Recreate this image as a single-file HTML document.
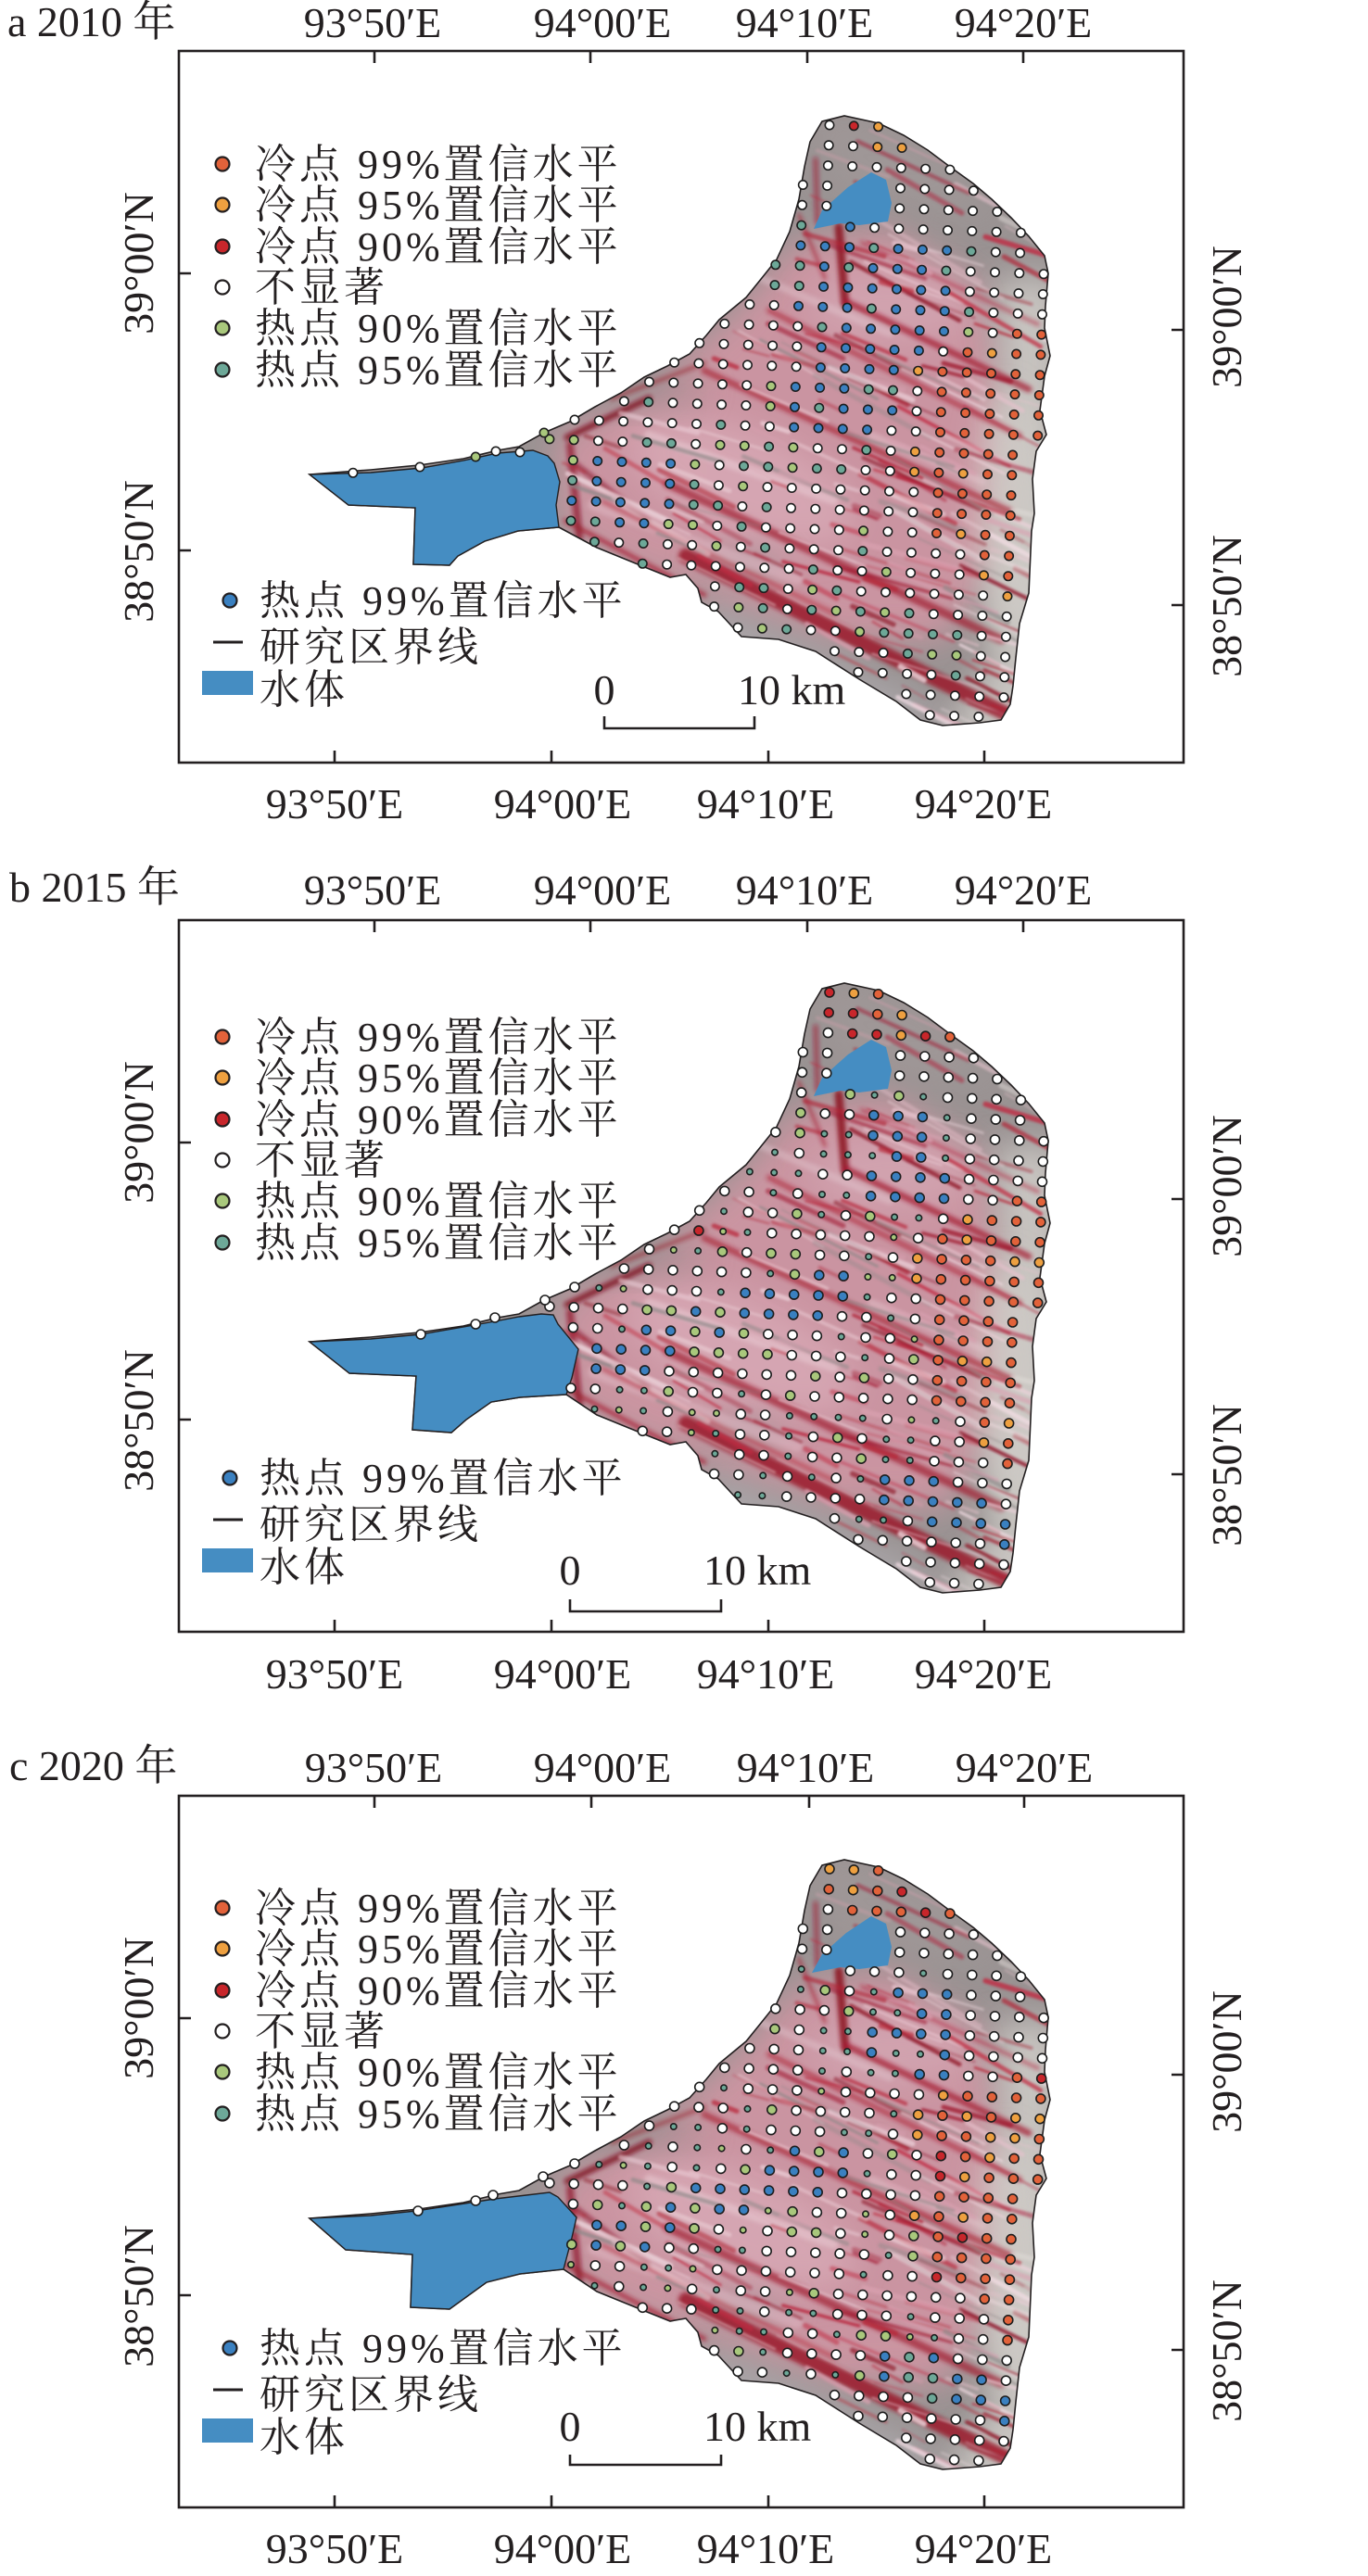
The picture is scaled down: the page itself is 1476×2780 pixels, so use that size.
<!DOCTYPE html>
<html><head><meta charset="utf-8">
<style>
html,body{margin:0;padding:0;background:#fff;overflow:hidden;width:1476px;height:2780px;}
svg{display:block;}
.t{font-family:"Liberation Serif","Noto Serif CJK SC",serif;font-size:46px;fill:#231f20;}
.lg{font-family:"Liberation Serif","Noto Serif CJK SC",serif;font-size:44px;fill:#231f20;letter-spacing:4px;}
.fr{fill:none;stroke:#231f20;stroke-width:2.6;}
.tk{stroke:#231f20;stroke-width:2.6;}
.ld{stroke:#231f20;stroke-width:2.2;}
</style></head><body>
<svg id="s" width="1476" height="2780" viewBox="0 0 1476 2780" xmlns="http://www.w3.org/2000/svg">
<defs>
 <filter id="b20" x="-50%" y="-50%" width="200%" height="200%"><feGaussianBlur stdDeviation="18"/></filter>
 <filter id="b3" x="-10%" y="-10%" width="120%" height="120%"><feGaussianBlur stdDeviation="2.5"/></filter>
 <filter id="b1" x="-10%" y="-10%" width="120%" height="120%"><feGaussianBlur stdDeviation="1.2"/></filter>
 <clipPath id="clipa"><polygon points="334,512 400,507 452,502 500,495 537,486 560,482 587,467 615,455 642,439 670,424 695,407 720,395 744,382 762,362 776,345 805,321 822,300 838,280 852,250 862,215 868,180 874,153 887,131 911,125 948,133 975,146 1001,162 1025,180 1050,198 1070,215 1091,235 1110,255 1127,276 1131,295 1128,330 1127,354 1133,384 1127,406 1122,443 1129,469 1118,487 1114,517 1116,554 1113,573 1110,640 1100,673 1096,710 1093,740 1090,760 1080,777 1057,780 1017,783 993,777 967,757 927,733 880,703 840,690 800,687 775,660 757,650 753,635 740,620 723,623 698,613 644,591 603,569 559,573 523,584 494,600 485,610 446,609 448,548 376,545"/></clipPath>
 <clipPath id="clipb"><polygon points="334,512 400,507 452,502 500,495 537,486 560,482 587,467 615,455 642,439 670,424 695,407 720,395 744,382 762,362 776,345 805,321 822,300 838,280 852,250 862,215 868,180 874,153 887,131 911,125 948,133 975,146 1001,162 1025,180 1050,198 1070,215 1091,235 1110,255 1127,276 1131,295 1128,330 1127,354 1133,384 1127,406 1122,443 1129,469 1118,487 1114,517 1116,554 1113,573 1110,640 1100,673 1096,710 1093,740 1090,760 1080,777 1057,780 1017,783 993,777 967,757 927,733 880,703 840,690 800,687 775,660 757,650 753,635 740,620 723,623 698,613 644,591 611,569 561,572 530,577 503,596 487,610 445,607 449,549 377,546"/></clipPath>
 <clipPath id="clipc"><polygon points="334,512 400,507 452,502 500,495 537,486 560,482 587,467 615,455 642,439 670,424 695,407 720,395 744,382 762,362 776,345 805,321 822,300 838,280 852,250 862,215 868,180 874,153 887,131 911,125 948,133 975,146 1001,162 1025,180 1050,198 1070,215 1091,235 1110,255 1127,276 1131,295 1128,330 1127,354 1133,384 1127,406 1122,443 1129,469 1118,487 1114,517 1116,554 1113,573 1110,640 1100,673 1096,710 1093,740 1090,760 1080,777 1057,780 1017,783 993,777 967,757 927,733 880,703 840,690 800,687 775,660 757,650 753,635 740,620 723,623 698,613 644,591 608,567 561,572 525,581 485,610 443,608 445,551 373,546"/></clipPath>
 <g id="mapbg">
  <rect x="300" y="100" width="880" height="720" fill="#9a9393"/>
  <polygon points="600,470 690,425 790,340 860,260 960,245 1060,310 1090,450 1080,600 1020,690 900,690 780,650 670,610 605,570" fill="#d095a3" opacity="0.9" filter="url(#b20)"/>
  <ellipse cx="800" cy="520" rx="130" ry="55" fill="#dfb4c0" opacity="0.55" filter="url(#b20)" transform="rotate(22 800 520)"/>
  <ellipse cx="960" cy="330" rx="90" ry="40" fill="#d8b0bc" opacity="0.5" filter="url(#b20)"/>
  <polygon points="1075,300 1145,300 1145,800 1010,800 1070,720 1085,560" fill="#cdcac6" opacity="0.9" filter="url(#b20)"/>
  <ellipse cx="1085" cy="560" rx="30" ry="140" fill="#d6d3ce" opacity="0.7" filter="url(#b20)"/>
  <polygon points="760,650 880,700 1000,760 1010,800 740,800" fill="#b0aeb2" opacity="0.7" filter="url(#b20)"/>
  <polygon points="870,120 1000,140 1080,230 1000,230 900,200" fill="#a39a9a" opacity="0.6" filter="url(#b20)"/>
  <ellipse cx="700" cy="420" rx="60" ry="20" fill="#8e8a8a" opacity="0.5" filter="url(#b20)"/>
  <ellipse cx="800" cy="610" rx="50" ry="18" fill="#9a9898" opacity="0.5" filter="url(#b20)"/>
  <g filter="url(#b3)" stroke-linecap="round" fill="none">
   <line x1="700" y1="470" x2="900" y2="540" stroke="#ecd0d8" stroke-width="10" opacity=".5"/>
   <line x1="640" y1="545" x2="860" y2="625" stroke="#e6c6d0" stroke-width="12" opacity=".4"/>
   <line x1="820" y1="300" x2="960" y2="360" stroke="#e4ccd4" stroke-width="8" opacity=".4"/>
   <line x1="940" y1="470" x2="1060" y2="520" stroke="#e8d0d8" stroke-width="8" opacity=".4"/>
   <line x1="905" y1="245" x2="912" y2="330" stroke="#8e1425" stroke-width="9" opacity=".9"/>
   <line x1="912" y1="325" x2="1110" y2="420" stroke="#a51a30" stroke-width="7" opacity=".75"/>
   <line x1="930" y1="262" x2="1120" y2="350" stroke="#b52238" stroke-width="4" opacity=".55"/>
   <line x1="830" y1="335" x2="1100" y2="470" stroke="#ad1b32" stroke-width="6" opacity=".6"/>
   <line x1="760" y1="400" x2="1090" y2="552" stroke="#a81a30" stroke-width="7" opacity=".65"/>
   <line x1="720" y1="522" x2="1080" y2="690" stroke="#a01830" stroke-width="9" opacity=".7"/>
   <line x1="740" y1="600" x2="1085" y2="770" stroke="#9a1528" stroke-width="16" opacity=".85"/>
   <line x1="650" y1="542" x2="900" y2="662" stroke="#b82438" stroke-width="5" opacity=".55"/>
   <line x1="610" y1="562" x2="760" y2="642" stroke="#a81a30" stroke-width="5" opacity=".7"/>
   <line x1="612" y1="472" x2="700" y2="430" stroke="#7e1422" stroke-width="7" opacity=".8"/>
   <line x1="620" y1="500" x2="700" y2="562" stroke="#8a1626" stroke-width="5" opacity=".7"/>
   <line x1="660" y1="430" x2="760" y2="392" stroke="#9a1a2a" stroke-width="4" opacity=".6"/>
   <line x1="862" y1="232" x2="890" y2="300" stroke="#a81a30" stroke-width="4" opacity=".6"/>
   <line x1="880" y1="172" x2="882" y2="240" stroke="#a01830" stroke-width="5" opacity=".6"/>
   <line x1="615" y1="480" x2="625" y2="580" stroke="#8e1626" stroke-width="8" opacity=".7"/>
  </g>
  <g id="tex" filter="url(#b1)" stroke-linecap="round" fill="none"></g>
 </g>
</defs>

<!-- ===== Panel a ===== -->
<text class="t" x="8" y="39">a 2010 年</text>
<rect class="fr" x="193" y="55" width="1084" height="768"/>
<path class="tk" d="M404,55V68M637,55V68M871,55V68M1104,55V68M361,823V810M595,823V810M829,823V810M1062,823V810M193,295H206M193,594H206M1277,356H1264M1277,653H1264"/>
<g class="t" text-anchor="middle">
 <text x="402" y="40">93°50′E</text><text x="650" y="40">94°00′E</text><text x="868" y="40">94°10′E</text><text x="1104" y="40">94°20′E</text>
 <text x="361" y="883">93°50′E</text><text x="607" y="883">94°00′E</text><text x="826" y="883">94°10′E</text><text x="1061" y="883">94°20′E</text>
 <text transform="translate(165,284) rotate(-90)">39°00′N</text><text transform="translate(165,595) rotate(-90)">38°50′N</text>
 <text transform="translate(1339,342) rotate(-90)">39°00′N</text><text transform="translate(1339,654) rotate(-90)">38°50′N</text>
</g>
<g>
 <g clip-path="url(#clipa)"><use href="#mapbg"/></g>
 <polygon points="334,512 400,507 452,502 500,495 537,486 560,482 587,467 615,455 642,439 670,424 695,407 720,395 744,382 762,362 776,345 805,321 822,300 838,280 852,250 862,215 868,180 874,153 887,131 911,125 948,133 975,146 1001,162 1025,180 1050,198 1070,215 1091,235 1110,255 1127,276 1131,295 1128,330 1127,354 1133,384 1127,406 1122,443 1129,469 1118,487 1114,517 1116,554 1113,573 1110,640 1100,673 1096,710 1093,740 1090,760 1080,777 1057,780 1017,783 993,777 967,757 927,733 880,703 840,690 800,687 775,660 757,650 753,635 740,620 723,623 698,613 644,591 603,569 559,573 523,584 494,600 485,610 446,609 448,548 376,545" fill="none" stroke="#231f20" stroke-width="1.6"/>
 <polygon points="334,512 376,545 448,548 446,609 485,610 494,600 523,584 559,573 603,569 600,545 604,520 598,500 591,492 575,486 537,489 500,497 455,505 400,510" fill="#458dc2" stroke="#231f20" stroke-width="1.4"/>
 <polygon points="878,247 887,227 915,202 940,186 956,194 962,219 958,239 927,243 907,241" fill="#458dc2"/>
 <g id="dotsa"></g>
</g>
<g class="lg">
 <text x="275" y="192">冷点 99%置信水平</text><text x="275" y="236">冷点 95%置信水平</text><text x="275" y="281">冷点 90%置信水平</text>
 <text x="275" y="325">不显著</text><text x="275" y="369">热点 90%置信水平</text><text x="275" y="414">热点 95%置信水平</text>
 <text x="280" y="663">热点 99%置信水平</text><text x="280" y="713">研究区界线</text><text x="280" y="759">水体</text>
</g>
<g class="ld">
 <circle cx="240" cy="177" r="7.5" fill="#e2623a"/><circle cx="240" cy="221" r="7.5" fill="#eea040"/><circle cx="240" cy="266" r="7.5" fill="#c8262b"/>
 <circle cx="240" cy="310" r="7.5" fill="#ffffff"/><circle cx="240" cy="354" r="7.5" fill="#a9c87c"/><circle cx="240" cy="399" r="7.5" fill="#6da898"/>
 <circle cx="248" cy="648" r="7.5" fill="#3a80c0"/>
</g>
<path d="M230,693H262" stroke="#231f20" stroke-width="3"/>
<rect x="218" y="724" width="55" height="26" fill="#458dc2"/>
<path d="M652,773V786H814V773" fill="none" stroke="#231f20" stroke-width="2.6"/>
<text class="t" x="652" y="760" text-anchor="middle">0</text>
<text class="t" x="796" y="760">10 km</text>

<!-- ===== Panel b ===== -->
<text class="t" x="10" y="973">b 2015 年</text>
<rect class="fr" x="193" y="993" width="1084" height="768"/>
<path class="tk" d="M404,993V1006M637,993V1006M871,993V1006M1104,993V1006M361,1761V1748M595,1761V1748M829,1761V1748M1062,1761V1748M193,1233H206M193,1532H206M1277,1294H1264M1277,1591H1264"/>
<g class="t" text-anchor="middle">
 <text x="402" y="976">93°50′E</text><text x="650" y="976">94°00′E</text><text x="868" y="976">94°10′E</text><text x="1104" y="976">94°20′E</text>
 <text x="361" y="1822">93°50′E</text><text x="607" y="1822">94°00′E</text><text x="826" y="1822">94°10′E</text><text x="1061" y="1822">94°20′E</text>
 <text transform="translate(165,1222) rotate(-90)">39°00′N</text><text transform="translate(165,1533) rotate(-90)">38°50′N</text>
 <text transform="translate(1339,1280) rotate(-90)">39°00′N</text><text transform="translate(1339,1592) rotate(-90)">38°50′N</text>
</g>
<g transform="translate(0,936)">
 <g clip-path="url(#clipb)"><use href="#mapbg"/></g>
 <polygon points="334,512 400,507 452,502 500,495 537,486 560,482 587,467 615,455 642,439 670,424 695,407 720,395 744,382 762,362 776,345 805,321 822,300 838,280 852,250 862,215 868,180 874,153 887,131 911,125 948,133 975,146 1001,162 1025,180 1050,198 1070,215 1091,235 1110,255 1127,276 1131,295 1128,330 1127,354 1133,384 1127,406 1122,443 1129,469 1118,487 1114,517 1116,554 1113,573 1110,640 1100,673 1096,710 1093,740 1090,760 1080,777 1057,780 1017,783 993,777 967,757 927,733 880,703 840,690 800,687 775,660 757,650 753,635 740,620 723,623 698,613 644,591 611,569 561,572 530,577 503,596 487,610 445,607 449,549 377,546" fill="none" stroke="#231f20" stroke-width="1.6"/>
 <polygon points="334,512 377,546 449,549 445,607 487,610 503,596 530,577 561,572 611,569 617,551 624,520 602,493 597,483 584,482 560,485 534,490 454,504 400,509" fill="#458dc2" stroke="#231f20" stroke-width="1.4"/>
 <polygon points="878,247 887,227 915,202 940,186 956,194 962,219 958,239 927,243 907,241" fill="#458dc2"/>
 <g id="dotsb"></g>
</g>
<g class="lg">
 <text x="275" y="1134">冷点 99%置信水平</text><text x="275" y="1178">冷点 95%置信水平</text><text x="275" y="1223">冷点 90%置信水平</text>
 <text x="275" y="1267">不显著</text><text x="275" y="1311">热点 90%置信水平</text><text x="275" y="1356">热点 95%置信水平</text>
 <text x="280" y="1610">热点 99%置信水平</text><text x="280" y="1660">研究区界线</text><text x="280" y="1706">水体</text>
</g>
<g class="ld">
 <circle cx="240" cy="1119" r="7.5" fill="#e2623a"/><circle cx="240" cy="1163" r="7.5" fill="#eea040"/><circle cx="240" cy="1208" r="7.5" fill="#c8262b"/>
 <circle cx="240" cy="1252" r="7.5" fill="#ffffff"/><circle cx="240" cy="1296" r="7.5" fill="#a9c87c"/><circle cx="240" cy="1341" r="7.5" fill="#6da898"/>
 <circle cx="248" cy="1595" r="7.5" fill="#3a80c0"/>
</g>
<path d="M230,1640H262" stroke="#231f20" stroke-width="3"/>
<rect x="218" y="1671" width="55" height="26" fill="#458dc2"/>
<path d="M615,1726V1739H778V1726" fill="none" stroke="#231f20" stroke-width="2.6"/>
<text class="t" x="615" y="1710" text-anchor="middle">0</text>
<text class="t" x="759" y="1710">10 km</text>

<!-- ===== Panel c ===== -->
<text class="t" x="10" y="1921">c 2020 年</text>
<rect class="fr" x="193" y="1938" width="1084" height="768"/>
<path class="tk" d="M404,1938V1951M638,1938V1951M873,1938V1951M1105,1938V1951M361,2706V2693M595,2706V2693M829,2706V2693M1062,2706V2693M193,2178H206M193,2477H206M1277,2239H1264M1277,2536H1264"/>
<g class="t" text-anchor="middle">
 <text x="403" y="1923">93°50′E</text><text x="650" y="1923">94°00′E</text><text x="869" y="1923">94°10′E</text><text x="1105" y="1923">94°20′E</text>
 <text x="361" y="2766">93°50′E</text><text x="607" y="2766">94°00′E</text><text x="826" y="2766">94°10′E</text><text x="1061" y="2766">94°20′E</text>
 <text transform="translate(165,2167) rotate(-90)">39°00′N</text><text transform="translate(165,2478) rotate(-90)">38°50′N</text>
 <text transform="translate(1339,2225) rotate(-90)">39°00′N</text><text transform="translate(1339,2537) rotate(-90)">38°50′N</text>
</g>
<g transform="translate(0,1882)">
 <g clip-path="url(#clipc)"><use href="#mapbg"/></g>
 <polygon points="334,512 400,507 452,502 500,495 537,486 560,482 587,467 615,455 642,439 670,424 695,407 720,395 744,382 762,362 776,345 805,321 822,300 838,280 852,250 862,215 868,180 874,153 887,131 911,125 948,133 975,146 1001,162 1025,180 1050,198 1070,215 1091,235 1110,255 1127,276 1131,295 1128,330 1127,354 1133,384 1127,406 1122,443 1129,469 1118,487 1114,517 1116,554 1113,573 1110,640 1100,673 1096,710 1093,740 1090,760 1080,777 1057,780 1017,783 993,777 967,757 927,733 880,703 840,690 800,687 775,660 757,650 753,635 740,620 723,623 698,613 644,591 608,567 561,572 525,581 485,610 443,608 445,551 373,546" fill="none" stroke="#231f20" stroke-width="1.6"/>
 <polygon points="334,512 373,546 445,551 443,608 485,610 525,581 561,572 608,567 617,533 622,511 602,489 593,484 534,491 449,504 400,509" fill="#458dc2" stroke="#231f20" stroke-width="1.4"/>
 <polygon points="876,247 887,227 913,204 940,186 956,194 962,219 958,239 927,243 907,241" fill="#458dc2"/>
 <g id="dotsc"></g>
</g>
<g class="lg">
 <text x="275" y="2074">冷点 99%置信水平</text><text x="275" y="2118">冷点 95%置信水平</text><text x="275" y="2163">冷点 90%置信水平</text>
 <text x="275" y="2207">不显著</text><text x="275" y="2251">热点 90%置信水平</text><text x="275" y="2296">热点 95%置信水平</text>
 <text x="280" y="2549">热点 99%置信水平</text><text x="280" y="2599">研究区界线</text><text x="280" y="2645">水体</text>
</g>
<g class="ld">
 <circle cx="240" cy="2059" r="7.5" fill="#e2623a"/><circle cx="240" cy="2103" r="7.5" fill="#eea040"/><circle cx="240" cy="2148" r="7.5" fill="#c8262b"/>
 <circle cx="240" cy="2192" r="7.5" fill="#ffffff"/><circle cx="240" cy="2236" r="7.5" fill="#a9c87c"/><circle cx="240" cy="2281" r="7.5" fill="#6da898"/>
 <circle cx="248" cy="2534" r="7.5" fill="#3a80c0"/>
</g>
<path d="M230,2579H262" stroke="#231f20" stroke-width="3"/>
<rect x="218" y="2610" width="55" height="26" fill="#458dc2"/>
<path d="M615,2649V2660H778V2649" fill="none" stroke="#231f20" stroke-width="2.6"/>
<text class="t" x="615" y="2634" text-anchor="middle">0</text>
<text class="t" x="759" y="2634">10 km</text>
</svg>

<script>
(function(){
var NS='http://www.w3.org/2000/svg';
var COL={C99:'#e2623a',C95:'#eea040',C90:'#c8262b',N:'#ffffff',H90:'#a9c87c',H95:'#6da898',H99:'#3a80c0'};
function parse(s){return s.trim().split(/\s+/).map(function(p){return p.split(',').map(Number);});}
var common=parse("334,512 400,507 452,502 500,495 537,486 560,482 587,467 615,455 642,439 670,424 695,407 720,395 744,382 762,362 776,345 805,321 822,300 838,280 852,250 862,215 868,180 874,153 887,131 911,125 948,133 975,146 1001,162 1025,180 1050,198 1070,215 1091,235 1110,255 1127,276 1131,295 1128,330 1127,354 1133,384 1127,406 1122,443 1129,469 1118,487 1114,517 1116,554 1113,573 1110,640 1100,673 1096,710 1093,740 1090,760 1080,777 1057,780 1017,783 993,777 967,757 927,733 880,703 840,690 800,687 775,660 757,650 753,635 740,620 723,623 698,613 644,591");
var bottoms={a:parse("603,569 559,573 523,584 494,600 485,610 446,609 448,548 376,545"),
 b:parse("611,569 561,572 530,577 503,596 487,610 445,607 449,549 377,546"),
 c:parse("608,567 561,572 525,581 485,610 443,608 445,551 373,546")};
var waters={a:parse("334,512 376,545 448,548 446,609 485,610 494,600 523,584 559,573 603,569 600,545 604,520 598,500 591,492 575,486 537,489 500,497 455,505 400,510"),
 b:parse("334,512 377,546 449,549 445,607 487,610 503,596 530,577 561,572 611,569 617,551 624,520 602,493 597,483 584,482 560,485 534,490 454,504 400,509"),
 c:parse("334,512 373,546 445,551 443,608 485,610 525,581 561,572 608,567 617,533 622,511 602,489 593,484 534,491 449,504 400,509")};
var lake=parse("878,247 887,227 915,202 940,186 956,194 962,219 958,239 927,243 907,241");
var blueN=parse("850,232 1030,262 1030,345 1000,388 945,472 838,472 845,428 880,392 888,352 852,332");
function inPoly(x,y,p){var c=false;for(var i=0,j=p.length-1;i<p.length;j=i++){var xi=p[i][0],yi=p[i][1],xj=p[j][0],yj=p[j][1];if(((yi>y)!=(yj>y))&&(x<(xj-xi)*(y-yi)/(yj-yi)+xi))c=!c;}return c;}
function segD(x,y,x1,y1,x2,y2){var dx=x2-x1,dy=y2-y1;var t=((x-x1)*dx+(y-y1)*dy)/(dx*dx+dy*dy);t=Math.max(0,Math.min(1,t));return Math.hypot(x1+t*dx-x,y1+t*dy-y);}
function rnd(i,j,s){var h=Math.sin(i*127.1+j*311.7+s*74.7)*43758.5453;return h-Math.floor(h);}
/* texture streaks */
(function(){
 var g=document.getElementById('tex'); if(!g) return;
 var seed=7; function R(){seed=(seed*16807)%2147483647;return (seed-1)/2147483646;}
 var cols=['#b01c33','#c02840','#a01830','#8e1425','#b82438','#ecd0d8','#e6c2cc','#d8a0b0','#f0dce2','#8e8888'];
 var land=common.concat(bottoms.a);
 var n=0,tries=0;
 while(n<170&&tries<2000){
  tries++;
  var x=600+R()*540, y=130+R()*660;
  if(!inPoly(x,y,land)) continue;
  var len=25+R()*120, ang=Math.atan(0.42)+(R()-0.5)*0.3;
  var c=cols[Math.floor(R()*cols.length)];
  // fewer reds near east white strip
  if(x>1070 && c.charAt(1)!=='e' && c.charAt(1)!=='f' && R()<0.6) c='#d8d4d0';
  var e=document.createElementNS(NS,'line');
  e.setAttribute('x1',x.toFixed(1));e.setAttribute('y1',y.toFixed(1));
  e.setAttribute('x2',(x+len*Math.cos(ang)).toFixed(1));e.setAttribute('y2',(y+len*Math.sin(ang)).toFixed(1));
  e.setAttribute('stroke',c);e.setAttribute('stroke-width',(1.5+R()*4.5).toFixed(1));
  e.setAttribute('opacity',(0.35+R()*0.45).toFixed(2));
  g.appendChild(e); n++;
 }
})();
function xcold(y){if(y<345)return 1e9;if(y<375)return 1085;if(y<398)return 1040;if(y<425)return 1003;if(y<590)return 998;if(y<612)return 1045;if(y<655)return 1070;return 1e9;}
function clsA(x,y,r){
 if(y<150&&x>913) return x<937?'C90':'C95';
 if(y<175&&x>940) return 'C95';
 var xc=xcold(y);
 if(x>xc) return r<0.1?'C95':'C99';
 if(x>xc-30&&r<0.3) return 'C95';
 if(inPoly(x,y,blueN)) return r<0.88?'H99':'H95';
 if(inPoly(x+26,y,blueN)||inPoly(x-26,y,blueN)) return r<0.3?'H95':r<0.5?'H90':'N';
 var e2=Math.hypot((x-678)/75,(y-524)/42);
 if(e2<1) return r<0.75?'H99':'H95';
 if(e2<1.6) return r<0.55?'H95':r<0.8?'H90':'N';
 var e3=Math.hypot((x-830)/100,(y-500)/55);
 if(e3<1) return r<0.5?'H95':r<0.75?'H90':'N';
 if(segD(x,y,890,640,1030,705)<25) return r<0.5?'H95':r<0.75?'H90':'N';
 if(x<1000&&y>420&&y<720) return r<0.12?'H95':r<0.2?'H90':'N';
 return 'N';
}
function clsB(x,y,r){
 if(y<192&&x>888){ if(y>170&&x<910) return 'N'; return r<0.35?'C95':r<0.75?'C99':'C90';}
 var xc=xcold(y);
 if(x>xc) return r<0.15?'C95':r<0.22?'C90':'C99';
 if(x>xc-30&&r<0.3) return 'C95';
 if(x>928&&x<1028&&y>255&&y<365) return r<0.8?'H99':'S';
 if(segD(x,y,665,528,905,450)<26) return r<0.8?'H99':'H90';
 if(segD(x,y,970,668,1080,712)<24) return r<0.85?'H99':'H95';
 if(x<830&&y>295&&y<400&&r>0.9) return 'C90';
 if(x>600&&x<1010&&y>240&&y<720) return r<0.33?'S':r<0.45?'H90':r<0.5?'Sg':'N';
 return 'N';
}
function dot(g,x,y,rr,c){
 var e=document.createElementNS(NS,'circle');
 e.setAttribute('cx',x.toFixed(1));e.setAttribute('cy',y.toFixed(1));e.setAttribute('r',rr);
 e.setAttribute('fill',COL[c]);e.setAttribute('stroke','#1d1d1d');e.setAttribute('stroke-width','1.6');
 g.appendChild(e);
}
function build(key,cls,seed,rad,extra){
 var g=document.getElementById('dots'+key);
 var outline=common.concat(bottoms[key]);
 var water=waters[key];
 for(var j=-2;j<33;j++)for(var i=-25;i<13;i++){
  var x=895+i*26.3-0.8*j, y=135+0.9*i+21.8*j;
  if(!inPoly(x,y,outline))continue;
  if(inPoly(x,y,water)||inPoly(x,y,lake))continue;
  var r=rnd(i,j,seed);
  var c=cls(x,y,r), rr=rad;
  if(c==='S'){c='H95';rr=3.2;} else if(c==='Sg'){c='H90';rr=3.2;}
  dot(g,x,y,rr,c);
 }
 extra.forEach(function(p){dot(g,p[0],p[1],rad,p[2]);});
}
build('a',clsA,1,4.7,[[453,504,'N'],[535,487,'N'],[561,488,'N'],[587,467,'H90']]);
build('b',clsB,2,5,[[454,504,'N'],[534,486,'N'],[588,467,'N']]);
build('c',clsB,3,5,[[451,504,'N'],[532,487,'N'],[586,467,'N']]);
})();
</script>
</body></html>
